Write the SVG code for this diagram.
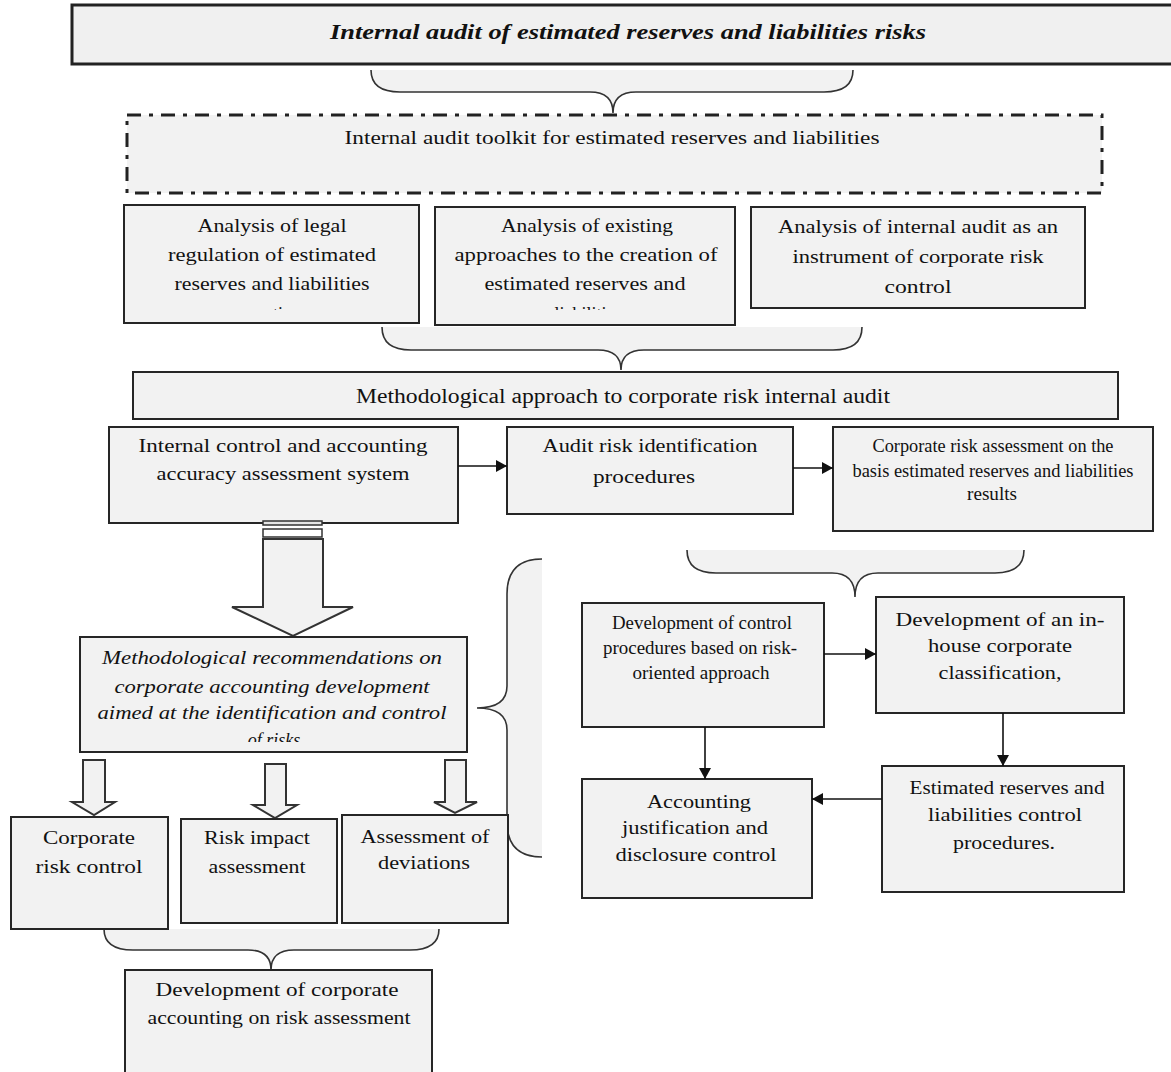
<svg xmlns="http://www.w3.org/2000/svg" width="1171" height="1072" viewBox="0 0 1171 1072">
<style>
.box{fill:#f2f2f2;stroke:#262626;stroke-width:2}
.t{font-family:"Liberation Serif","Times New Roman",serif;font-size:18px;fill:#111;text-anchor:middle}
.s{font-size:19px}
.i{font-style:italic}
.bf{fill:#f2f2f2;stroke:none}
.br{fill:none;stroke:#333;stroke-width:1.6}
.conn{stroke:#111;stroke-width:1.6;fill:none;marker-end:url(#ah)}
.hollow{fill:#f2f2f2;stroke:#333;stroke-width:2}
</style>
<defs>
<marker id="ah" markerWidth="11" markerHeight="12" refX="11" refY="6" orient="auto" markerUnits="userSpaceOnUse"><path d="M0,0 L11,6 L0,12 z" fill="#111"/></marker>
<clipPath id="cA1"><rect x="124" y="205" width="295" height="105"/></clipPath>
<clipPath id="cA2"><rect x="435" y="207" width="300" height="103"/></clipPath>
<clipPath id="cRec"><rect x="80" y="637" width="387" height="105"/></clipPath>
</defs>

<g id="title">
<rect x="72" y="5" width="1110" height="59" fill="#f0f0f0" stroke="#222" stroke-width="3"/>
<text class="t" x="628" y="39" style="font-weight:bold;font-style:italic;font-size:20px" textLength="596" lengthAdjust="spacingAndGlyphs">Internal audit of estimated reserves and liabilities risks</text>
</g>

<g id="braces">
<path class="bf" d="M371,70 Q371,92 400,92 L590,92 Q613,92 613,113 Q613,92 636,92 L824,92 Q853,92 853,70 Z"/>
<path class="br" d="M371,70 Q371,92 400,92 L590,92 Q613,92 613,113 Q613,92 636,92 L824,92 Q853,92 853,70"/>
<path class="bf" d="M382,327 Q382,350 411,350 L598,350 Q621,350 621,370 Q621,350 644,350 L833,350 Q862,350 862,327 Z"/>
<path class="br" d="M382,327 Q382,350 411,350 L598,350 Q621,350 621,370 Q621,350 644,350 L833,350 Q862,350 862,327"/>
<path class="bf" d="M687,550 Q687,573 716,573 L832,573 Q855,573 855,597 Q855,573 878,573 L995,573 Q1024,573 1024,550 Z"/>
<path class="br" d="M687,550 Q687,573 716,573 L832,573 Q855,573 855,597 Q855,573 878,573 L995,573 Q1024,573 1024,550"/>
<path class="bf" d="M104,929 Q104,950 133,950 L248,950 Q271,950 271,970 Q271,950 294,950 L410,950 Q439,950 439,929 Z"/>
<path class="br" d="M104,929 Q104,950 133,950 L248,950 Q271,950 271,970 Q271,950 294,950 L410,950 Q439,950 439,929"/>
<path class="bf" d="M542,559 Q507,559 507,594 L507,686 Q507,708 477,708 Q507,708 507,730 L507,822 Q507,857 542,857 Z"/>
<path class="br" d="M542,559 Q507,559 507,594 L507,686 Q507,708 477,708 Q507,708 507,730 L507,822 Q507,857 542,857"/>
</g>

<g id="toolkit">
<rect x="127" y="115" width="975" height="78" fill="#f2f2f2" stroke="#222" stroke-width="3" stroke-dasharray="14,8,4,8"/>
<text class="t" x="612" y="144" textLength="535" lengthAdjust="spacingAndGlyphs">Internal audit toolkit for estimated reserves and liabilities</text>
</g>

<g id="a1">
<rect class="box" x="124" y="205" width="295" height="118"/>
<text class="t" x="272" y="232" textLength="149" lengthAdjust="spacingAndGlyphs">Analysis of legal</text>
<text class="t" x="272" y="261" textLength="208" lengthAdjust="spacingAndGlyphs">regulation of estimated</text>
<text class="t" x="272" y="290" textLength="195" lengthAdjust="spacingAndGlyphs">reserves and liabilities</text>
<text class="t" x="272" y="320" clip-path="url(#cA1)">creation</text>
</g>

<g id="a2">
<rect class="box" x="435" y="207" width="300" height="118"/>
<text class="t" x="587" y="232" textLength="172" lengthAdjust="spacingAndGlyphs">Analysis of existing</text>
<text class="t" x="586" y="261" textLength="263" lengthAdjust="spacingAndGlyphs">approaches to the creation of</text>
<text class="t" x="585" y="290" textLength="201" lengthAdjust="spacingAndGlyphs">estimated reserves and</text>
<text class="t" x="588" y="320" clip-path="url(#cA2)">liabilities</text>
</g>

<g id="a3">
<rect class="box" x="751" y="207" width="334" height="101"/>
<text class="t" x="918" y="233" textLength="280" lengthAdjust="spacingAndGlyphs">Analysis of internal audit as an</text>
<text class="t" x="918" y="263" textLength="251" lengthAdjust="spacingAndGlyphs">instrument of corporate risk</text>
<text class="t" x="918" y="293" textLength="67" lengthAdjust="spacingAndGlyphs">control</text>
</g>

<g id="method">
<rect class="box" x="133" y="372" width="985" height="47"/>
<text class="t" x="623" y="403" style="font-size:20px" textLength="534" lengthAdjust="spacingAndGlyphs">Methodological approach to corporate risk internal audit</text>
</g>

<g id="b1">
<rect class="box" x="109" y="427" width="349" height="96"/>
<text class="t" x="283" y="452" textLength="289" lengthAdjust="spacingAndGlyphs">Internal control and accounting</text>
<text class="t" x="283" y="480" textLength="253" lengthAdjust="spacingAndGlyphs">accuracy assessment system</text>
</g>

<g id="b2">
<rect class="box" x="507" y="427" width="286" height="87"/>
<text class="t" x="650" y="452" textLength="215" lengthAdjust="spacingAndGlyphs">Audit risk identification</text>
<text class="t" x="644" y="483" textLength="102" lengthAdjust="spacingAndGlyphs">procedures</text>
</g>

<g id="b3">
<rect class="box" x="833" y="427" width="320" height="104"/>
<text class="t s" x="993" y="452" textLength="241" lengthAdjust="spacingAndGlyphs">Corporate risk assessment on the</text>
<text class="t s" x="993" y="477" textLength="281" lengthAdjust="spacingAndGlyphs">basis estimated reserves and liabilities</text>
<text class="t s" x="992" y="500" textLength="50" lengthAdjust="spacingAndGlyphs">results</text>
</g>

<g id="bigarrow">
<rect x="263" y="521" width="59" height="4" fill="#e6e6e6" stroke="#333" stroke-width="1.5"/>
<rect x="263" y="529" width="59" height="8" fill="#fff" stroke="#333" stroke-width="1.5"/>
<path class="hollow" d="M263,539 L323,539 L323,607 L353,607 L293,636 L232,607 L263,607 Z"/>
</g>

<g id="rec">
<rect class="box" x="80" y="637" width="387" height="115"/>
<text class="t i" x="272" y="664" textLength="340" lengthAdjust="spacingAndGlyphs">Methodological recommendations on</text>
<text class="t i" x="272" y="693" textLength="315" lengthAdjust="spacingAndGlyphs">corporate accounting development</text>
<text class="t i" x="272" y="719" textLength="349" lengthAdjust="spacingAndGlyphs">aimed at the identification and control</text>
<text class="t i" x="274" y="746" clip-path="url(#cRec)">of risks</text>
</g>

<g id="smallarrows">
<path class="hollow" d="M83,760 L105,760 L105,802 L115,802 L94,815 L72,802 L83,802 Z"/>
<path class="hollow" d="M265,764 L286,764 L286,805 L297,805 L275,818 L253,805 L265,805 Z"/>
<path class="hollow" d="M445,760 L466,760 L466,802 L477,802 L455,813 L434,802 L445,802 Z"/>
</g>

<g id="c1">
<rect class="box" x="11" y="817" width="157" height="112"/>
<text class="t" x="89" y="844" textLength="92" lengthAdjust="spacingAndGlyphs">Corporate</text>
<text class="t" x="89" y="873" textLength="107" lengthAdjust="spacingAndGlyphs">risk control</text>
</g>

<g id="c2">
<rect class="box" x="181" y="819" width="156" height="104"/>
<text class="t" x="257" y="844" textLength="106" lengthAdjust="spacingAndGlyphs">Risk impact</text>
<text class="t" x="257" y="873" textLength="97" lengthAdjust="spacingAndGlyphs">assessment</text>
</g>

<g id="c3">
<rect class="box" x="342" y="815" width="166" height="108"/>
<text class="t" x="425" y="843" textLength="129" lengthAdjust="spacingAndGlyphs">Assessment of</text>
<text class="t" x="424" y="869" textLength="92" lengthAdjust="spacingAndGlyphs">deviations</text>
</g>

<g id="d">
<rect class="box" x="125" y="970" width="307" height="120"/>
<text class="t" x="277" y="996" textLength="243" lengthAdjust="spacingAndGlyphs">Development of corporate</text>
<text class="t" x="279" y="1024" textLength="263" lengthAdjust="spacingAndGlyphs">accounting on risk assessment</text>
</g>

<g id="r1">
<rect class="box" x="582" y="603" width="242" height="124"/>
<text class="t s" x="702" y="629" textLength="180" lengthAdjust="spacingAndGlyphs">Development of control</text>
<text class="t s" x="700" y="654" textLength="194" lengthAdjust="spacingAndGlyphs">procedures based on risk-</text>
<text class="t s" x="701" y="679" textLength="137" lengthAdjust="spacingAndGlyphs">oriented approach</text>
</g>

<g id="r2">
<rect class="box" x="876" y="597" width="248" height="116"/>
<text class="t" x="1000" y="626" textLength="209" lengthAdjust="spacingAndGlyphs">Development of an in-</text>
<text class="t" x="1000" y="652" textLength="144" lengthAdjust="spacingAndGlyphs">house corporate</text>
<text class="t" x="1000" y="679" textLength="123" lengthAdjust="spacingAndGlyphs">classification,</text>
</g>

<g id="r3">
<rect class="box" x="582" y="779" width="230" height="119"/>
<text class="t" x="699" y="808" textLength="104" lengthAdjust="spacingAndGlyphs">Accounting</text>
<text class="t" x="695" y="834" textLength="146" lengthAdjust="spacingAndGlyphs">justification and</text>
<text class="t" x="696" y="861" textLength="161" lengthAdjust="spacingAndGlyphs">disclosure control</text>
</g>

<g id="r4">
<rect class="box" x="882" y="766" width="242" height="126"/>
<text class="t" x="1007" y="794" textLength="195" lengthAdjust="spacingAndGlyphs">Estimated reserves and</text>
<text class="t" x="1005" y="821" textLength="154" lengthAdjust="spacingAndGlyphs">liabilities control</text>
<text class="t" x="1004" y="849" textLength="102" lengthAdjust="spacingAndGlyphs">procedures.</text>
</g>

<g id="connectors">
<line class="conn" x1="458" y1="466" x2="507" y2="466"/>
<line class="conn" x1="793" y1="468" x2="833" y2="468"/>
<line class="conn" x1="824" y1="654" x2="876" y2="654"/>
<line class="conn" x1="705" y1="727" x2="705" y2="779"/>
<line class="conn" x1="1003" y1="713" x2="1003" y2="766"/>
<line class="conn" x1="882" y1="799" x2="812" y2="799"/>
</g>
</svg>
